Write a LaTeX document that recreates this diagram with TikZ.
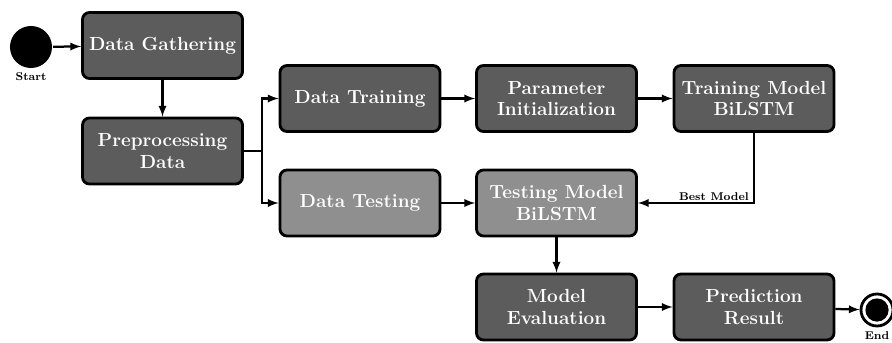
\documentclass[tikz,border=0pt]{standalone}
\usetikzlibrary{shapes,arrows,calc,positioning}
\begin{document}
\begin{tikzpicture}[x=0.025cm, y=-0.025cm, >=latex, line width=1.6pt,
   box/.style={rectangle, rounded corners=5pt, draw=black, line width=2pt, minimum width=4cm, minimum height=1.65cm, text=white, align=center, font=\fontsize{13.5}{15.5}\selectfont\bfseries},
   dark/.style={box, fill=black!64},
   light/.style={box, fill=black!44},
   tag/.style={font=\fontsize{8}{9}\selectfont\bfseries, inner sep=1pt}]
   \useasboundingbox (0,0) rectangle (892,342);
   % states
   \node (start) [circle, fill=black, minimum size=1.05cm] at (31,47) {};
   \node (end) [circle, draw=black, line width=2pt, fill=white, minimum size=0.8cm,
      path picture={\fill[black] (path picture bounding box.center) circle (0.29cm);}] at (877,310) {};
   \node [tag, below=1pt of start] {Start};
   \node [tag, below=1pt of end] {End};
   % steps
   \node (gather) [dark] at (162.5,45.5) {Data Gathering};
   \node (prep) [dark] at (162.5,151) {Preprocessing\\Data};
   \node (train) [dark] at (360,98.5) {Data Training};
   \node (test) [light] at (360,203) {Data Testing};
   \node (param) [dark] at (556.5,98.5) {Parameter\\Initialization};
   \node (trmodel) [dark] at (754,98.5) {Training Model\\BiLSTM};
   \node (tsmodel) [light] at (556.5,203) {Testing Model\\BiLSTM};
   \node (eval) [dark] at (556.5,307) {Model\\Evaluation};
   \node (pred) [dark] at (754,307) {Prediction\\Result};
   % flow
   \draw [->] (start) -- (gather);
   \draw [->] (gather) -- (prep);
   \draw (prep.east) -- ++(18,0) coordinate (split);
   \draw [->] (split) |- (train);
   \draw [->] (split) |- (test);
   \draw [->] (train) -- (param);
   \draw [->] (param) -- (trmodel);
   \draw [->] (test) -- (tsmodel);
   \draw [->] (trmodel.south) |- node[tag, pos=0.5, above left, xshift=-2pt] {Best Model} (tsmodel);
   \draw [->] (tsmodel) -- (eval);
   \draw [->] (eval) -- (pred);
   \draw [->] (pred) -- (end);
\end{tikzpicture}
\end{document}
